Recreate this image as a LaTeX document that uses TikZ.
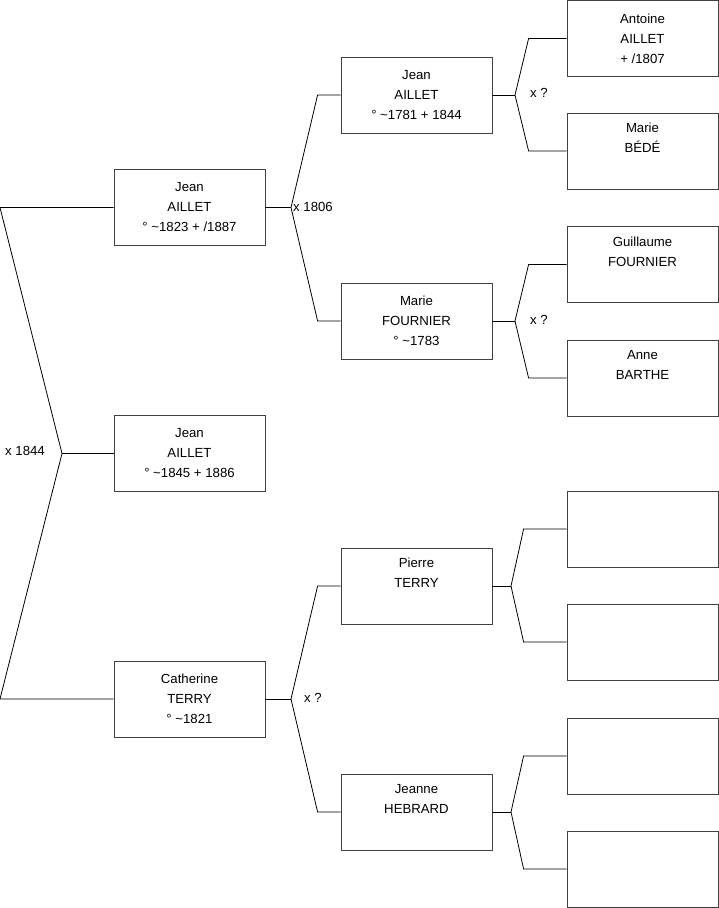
\documentclass[tikz,border=0pt]{standalone}
\usepackage{fontspec}
\setmainfont{Liberation Sans}
\tikzset{
  person/.style={draw=black!75, line width=0.8pt, minimum width=151pt, minimum height=76pt,
    align=center, inner sep=0pt, font=\fontsize{13.2}{20}\selectfont},
  link/.style={draw=black, line width=0.8pt},
  union/.style={inner sep=1pt, font=\fontsize{13.2}{15}\selectfont},
}
\begin{document}
\begin{tikzpicture}[x=1pt,y=-1pt]
  \useasboundingbox (0,0) rectangle (719,908);

  % first column
  \node[person] (jean1) at (189.5,207.5) {Jean\\AILLET\\° \textasciitilde1823 + /1887};
  \node[person] (jean0) at (189.5,453.5) {Jean\\AILLET\\° \textasciitilde1845 + 1886};
  \node[person] (cath) at (189.5,699) {Catherine\\TERRY\\° \textasciitilde1821};

  % parents
  \node[person] (jean2) at (416.5,95) {Jean\\AILLET\\° \textasciitilde1781 + 1844};
  \node[person] (marie) at (416.5,321) {Marie\\FOURNIER\\° \textasciitilde1783};
  \node[person] (pierre) at (416.5,586) {Pierre\\TERRY\\\strut};
  \node[person] (jeanne) at (416.5,812) {Jeanne\\HEBRARD\\\strut};

  % grandparents
  \node[person] (antoine) at (642.5,38.5) {Antoine\\AILLET\\+ /1807};
  \node[person] (bede) at (642.5,151) {Marie\\BÉDÉ\\\strut};
  \node[person] (guill) at (642.5,264.5) {Guillaume\\FOURNIER\\\strut};
  \node[person] (anne) at (642.5,378) {Anne\\BARTHE\\\strut};
  \node[person] (e1) at (642.5,529) {};
  \node[person] (e2) at (642.5,642) {};
  \node[person] (e3) at (642.5,756) {};
  \node[person] (e4) at (642.5,869) {};

  % forks
  \coordinate (top0) at (0,207.5);
  \coordinate (bot0) at (0,699);
  \coordinate (f0) at (62,453.5);
  \coordinate (f1) at (291,207.5);
  \coordinate (f2) at (291,699);
  \coordinate (f3) at (515,95);
  \coordinate (f4) at (515,321);
  \coordinate (f5) at (511,586);
  \coordinate (f6) at (511,812);

  \draw[link] (jean1.west) -- (top0) -- (f0) -- (bot0) -- (cath.west);
  \draw[link] (f0) -- (jean0.west);

  \draw[link] (jean1.east) -- (f1);
  \draw[link] (jean2.west) -- ++(-23,0) -- (f1) -- ([xshift=-23pt]marie.west) -- (marie.west);
  \draw[link] (cath.east) -- (f2);
  \draw[link] (pierre.west) -- ++(-23,0) -- (f2) -- ([xshift=-23pt]jeanne.west) -- (jeanne.west);

  \draw[link] (jean2.east) -- (f3);
  \draw[link] (antoine.west) -- ++(-38,0) -- (f3) -- ([xshift=-38pt]bede.west) -- (bede.west);
  \draw[link] (marie.east) -- (f4);
  \draw[link] (guill.west) -- ++(-38,0) -- (f4) -- ([xshift=-38pt]anne.west) -- (anne.west);
  \draw[link] (pierre.east) -- (f5);
  \draw[link] (e1.west) -- ++(-43,0) -- (f5) -- ([xshift=-43pt]e2.west) -- (e2.west);
  \draw[link] (jeanne.east) -- (f6);
  \draw[link] (e3.west) -- ++(-43,0) -- (f6) -- ([xshift=-43pt]e4.west) -- (e4.west);

  % marriages
  \node[union, anchor=east] (m0) at (46,451) {x 1844};
  \node[union, anchor=west] (m1) at (292,207) {x 1806};
  \node[union, anchor=west] (m2) at (303,698) {x ?};
  \node[union, anchor=west] (m3) at (529,93) {x ?};
  \node[union, anchor=west] (m4) at (529,320) {x ?};
\end{tikzpicture}
\end{document}
